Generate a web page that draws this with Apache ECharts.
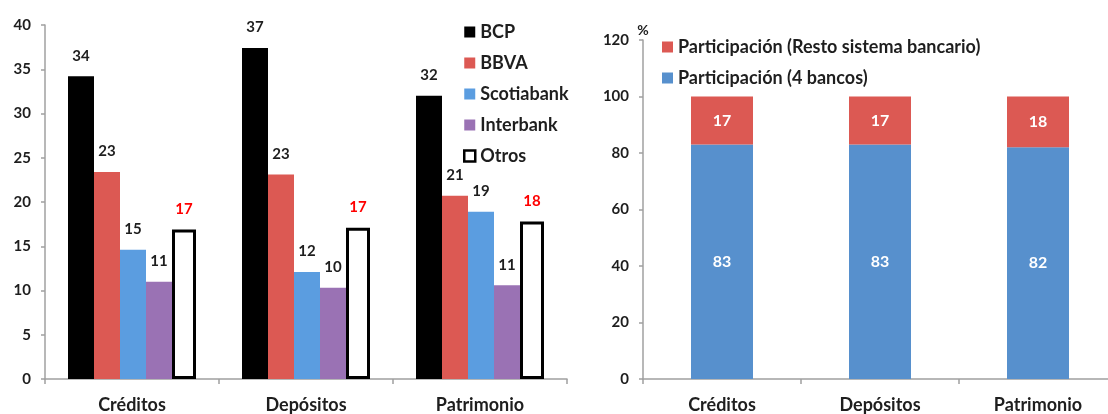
<!DOCTYPE html>
<html>
<head>
<meta charset="utf-8">
<style>
  html, body { margin: 0; padding: 0; background: #fff; overflow: hidden; }
  /* un poco más ancho que la ventana: el eje derecho sigue más allá del borde */
  #chart { width: 1125px; height: 414px; }
</style>
<script src="https://cdn.jsdelivr.net/npm/echarts@6/dist/echarts.min.js"></script>
</head>
<body>
<div id="chart"></div>
<script>
// datos
var categorias = ["Créditos", "Depósitos", "Patrimonio"];
var bcp = [34.2, 37.4, 32.0];
var bbva = [23.4, 23.1, 20.7];
var scotiabank = [14.6, 12.1, 18.9];
var interbank = [11.0, 10.3, 10.6];
var otros = [16.9, 17.1, 17.8];
var cuatroBancos = [83, 83, 82];
var restoSistema = [17, 17, 18];

var fuente = "Lato";
var texto = "#1e1e1e";
var chart = echarts.init(document.getElementById("chart"));

var etiqueta = function (color) {
  return {
    show: true,
    position: "top",
    distance: 13,
    color: color,
    fontFamily: fuente,
    fontWeight: "bold",
    fontSize: 15,
    formatter: function (p) { return Math.round(p.value); }
  };
};

var ejeX = function (idx) {
  return {
    type: "category",
    gridIndex: idx,
    data: categorias,
    axisLine: { lineStyle: { color: "#a0a0a0", width: 1.5 } },
    axisTick: { show: true, length: 5, lineStyle: { color: "#a0a0a0", width: 1.5 } },
    axisLabel: { margin: 17, color: texto, fontFamily: fuente, fontWeight: "bold", fontSize: 18 }
  };
};

var ejeY = function (idx, max, interval) {
  return {
    type: "value",
    gridIndex: idx,
    min: 0,
    max: max,
    interval: interval,
    splitLine: { show: false },
    axisLine: { show: true, lineStyle: { color: "#a0a0a0", width: 1.5 } },
    axisTick: { show: true, length: 4, lineStyle: { color: "#a0a0a0", width: 1.5 } },
    axisLabel: { margin: 14, color: texto, fontFamily: fuente, fontWeight: "bold", fontSize: 15 }
  };
};

var yDerecha = ejeY(1, 120, 20);
yDerecha.name = "%";
yDerecha.nameGap = 3;
yDerecha.nameTextStyle = { color: texto, fontFamily: fuente, fontWeight: "bold", fontSize: 14, align: "center" };

var leyendaTexto = { color: texto, fontFamily: fuente, fontWeight: "bold", fontSize: 18 };

chart.setOption({
  animation: false,
  grid: [
    { left: 45, top: 25, width: 522, height: 355 },
    { left: 643, top: 40, width: 474, height: 340 }
  ],
  legend: [
    {
      orient: "vertical",
      left: 458,
      top: 18,
      icon: "rect",
      itemWidth: 11,
      itemHeight: 11,
      itemGap: 13,
      textStyle: leyendaTexto,
      data: [
        { name: "BCP" },
        { name: "BBVA" },
        { name: "Scotiabank" },
        { name: "Interbank" },
        { name: "Otros", textStyle: leyendaTexto, itemStyle: { color: "#ffffff", borderColor: "#000000", borderWidth: 2.5 } }
      ]
    },
    {
      orient: "vertical",
      left: 657,
      top: 33,
      icon: "rect",
      itemWidth: 11,
      itemHeight: 11,
      itemGap: 13,
      textStyle: leyendaTexto,
      data: ["Participación (Resto sistema bancario)", "Participación (4 bancos)"]
    }
  ],
  xAxis: [ejeX(0), ejeX(1)],
  yAxis: [ejeY(0, 40, 5), yDerecha],
  series: [
    {
      name: "BCP", type: "bar", xAxisIndex: 0, yAxisIndex: 0,
      data: bcp, barGap: "0%", barWidth: 26,
      itemStyle: { color: "#000000" }, label: etiqueta(texto)
    },
    {
      name: "BBVA", type: "bar", xAxisIndex: 0, yAxisIndex: 0, barWidth: 26,
      data: bbva, itemStyle: { color: "#dc5953" }, label: etiqueta(texto)
    },
    {
      name: "Scotiabank", type: "bar", xAxisIndex: 0, yAxisIndex: 0, barWidth: 26,
      data: scotiabank, itemStyle: { color: "#5b9de0" }, label: etiqueta(texto)
    },
    {
      name: "Interbank", type: "bar", xAxisIndex: 0, yAxisIndex: 0, barWidth: 26,
      data: interbank, itemStyle: { color: "#9a72b4" }, label: etiqueta(texto)
    },
    {
      name: "Otros", type: "bar", xAxisIndex: 0, yAxisIndex: 0, barWidth: 24,
      data: otros,
      itemStyle: { color: "#ffffff", borderColor: "#000000", borderWidth: 3 },
      label: etiqueta("#ff0000")
    },
    {
      name: "Participación (4 bancos)", type: "bar", stack: "total",
      xAxisIndex: 1, yAxisIndex: 1, data: cuatroBancos, barWidth: 62,
      itemStyle: { color: "#5790cd" },
      label: { show: true, position: "inside", color: "#ffffff", fontFamily: fuente, fontWeight: "bold", fontSize: 16 }
    },
    {
      name: "Participación (Resto sistema bancario)", type: "bar", stack: "total",
      xAxisIndex: 1, yAxisIndex: 1, data: restoSistema, barWidth: 62,
      itemStyle: { color: "#dc5953" },
      label: { show: true, position: "inside", color: "#ffffff", fontFamily: fuente, fontWeight: "bold", fontSize: 16 }
    }
  ]
});
</script>
</body>
</html>
